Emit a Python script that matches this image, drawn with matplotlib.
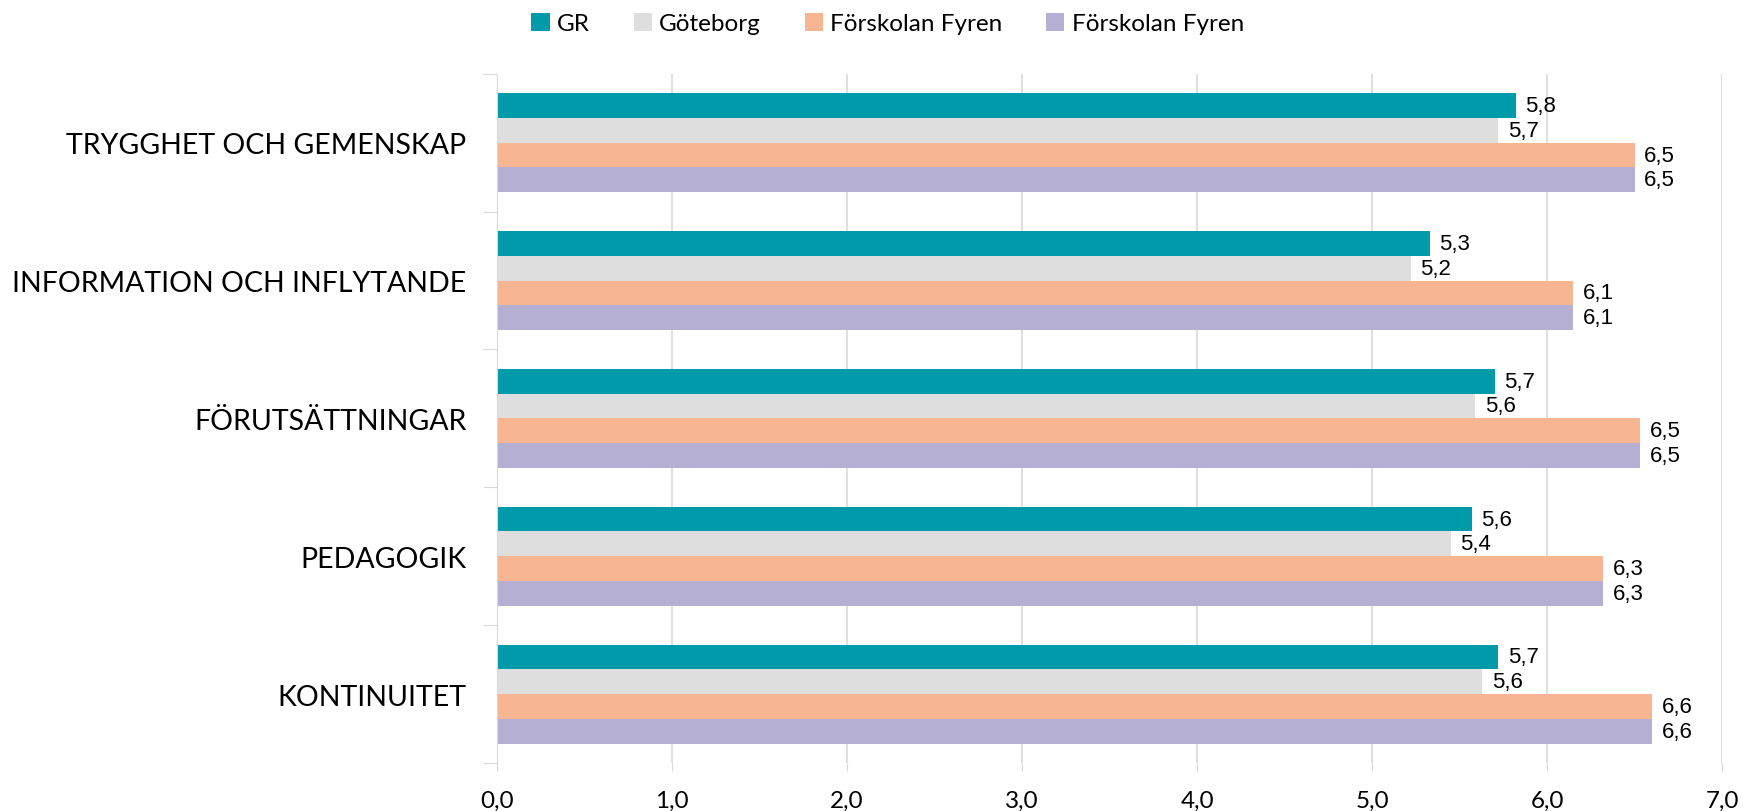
import matplotlib
matplotlib.use("Agg")
import matplotlib.pyplot as plt
import numpy as np

categories = ["TRYGGHET OCH GEMENSKAP", "INFORMATION OCH INFLYTANDE",
              "FÖRUTSÄTTNINGAR", "PEDAGOGIK", "KONTINUITET"]
series_names = ["GR", "Göteborg", "Förskolan Fyren", "Förskolan Fyren"]
gr = [5.82, 5.33, 5.70, 5.57, 5.72]
goteborg = [5.72, 5.22, 5.59, 5.45, 5.63]
fyren1 = [6.50, 6.15, 6.53, 6.32, 6.60]
fyren2 = [6.50, 6.15, 6.53, 6.32, 6.60]
labels_gr = ["5,8", "5,3", "5,7", "5,6", "5,7"]
labels_got = ["5,7", "5,2", "5,6", "5,4", "5,6"]
labels_f1 = ["6,5", "6,1", "6,5", "6,3", "6,6"]
labels_f2 = ["6,5", "6,1", "6,5", "6,3", "6,6"]
xticks = [0, 1, 2, 3, 4, 5, 6, 7]
xticklabels = ["0,0", "1,0", "2,0", "3,0", "4,0", "5,0", "6,0", "7,0"]

colors = ["#009BAA", "#DEDEDE", "#F8B592", "#B4AFD3"]
series = [gr, goteborg, fyren1, fyren2]
labels = [labels_gr, labels_got, labels_f1, labels_f2]

fig = plt.figure(figsize=(17.44, 8.12), dpi=100)
ax = fig.add_axes([0.285, 0.059, 0.7024, 0.849])

n = len(categories)
centers = np.arange(n)[::-1].astype(float)  # top category first
bh = 0.18
for i, (vals, col, labs, name) in enumerate(zip(series, colors, labels, series_names)):
    y = centers + (1.5 - i) * bh
    ax.barh(y, vals, height=bh, color=col, label=name, zorder=2)
    for yy, v, t in zip(y, vals, labs):
        ax.annotate(t.replace(",", ", ").replace(", ", ","), (v, yy), xytext=(7, 0),
                    textcoords="offset points",
                    va="center", ha="left", fontsize=16, family="Liberation Sans",
                    color="#000000")

ax.set_xlim(0, 7)
ax.set_ylim(-0.5, n - 0.5)
ax.set_xticks(xticks)
ax.set_xticklabels(xticklabels, fontsize=17.5, family="Lato")
ax.tick_params(axis="x", length=6, color="#D9D9D9", pad=13)
ax.grid(axis="x", color="#D9D9D9", lw=1.2, zorder=0)

ax.set_yticks(np.arange(n + 1) - 0.5)
ax.set_yticklabels([])
ax.set_yticks(centers, minor=True)
ax.set_yticklabels(categories, minor=True, fontsize=20.5, family="Lato")
ax.tick_params(axis="y", which="major", length=10, color="#D9D9D9")
ax.tick_params(axis="y", which="minor", length=0, pad=22)

for s in ["top", "right", "bottom"]:
    ax.spines[s].set_visible(False)
ax.spines["left"].set_color("#D9D9D9")

leg = fig.legend(loc="upper center", bbox_to_anchor=(0.509, 1.01), ncol=4, frameon=False,
                 prop={"family": "Lato", "size": 17.5}, handlelength=0.75, handleheight=0.75,
                 handletextpad=0.3, columnspacing=1.8)

fig.savefig("out.png", dpi=100)
